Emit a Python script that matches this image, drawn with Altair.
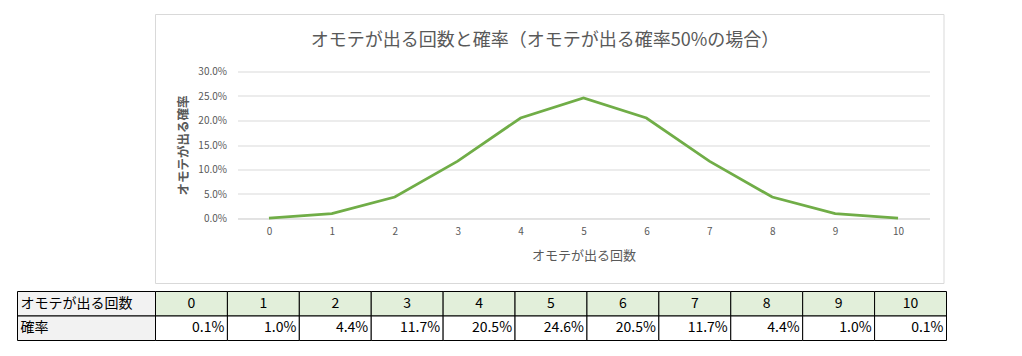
import altair as alt
import pandas as pd

# ---- data ----
counts = [0, 1, 2, 3, 4, 5, 6, 7, 8, 9, 10]
probs = [0.0010, 0.0098, 0.0439, 0.1172, 0.2051, 0.2461, 0.2051, 0.1172, 0.0439, 0.0098, 0.0010]
title_text = "オモテが出る回数と確率（オモテが出る確率50%の場合）"
x_title = "オモテが出る回数"
y_title = "オモテが出る確率"
row_labels = ["オモテが出る回数", "確率"]
y_ticks = [0.0, 0.05, 0.10, 0.15, 0.20, 0.25, 0.30]

FONT = "Noto Sans CJK JP"
GRAY = "#595959"
NOVIEW = alt.ViewBackground(stroke="transparent", strokeWidth=0)

# ---- top chart ----
df = pd.DataFrame({"n": counts, "p": probs})
deco = pd.DataFrame({"t": [title_text]})

line = alt.Chart(df).mark_line(color="#70ad47", strokeWidth=2.75).encode(
    x=alt.X("n:O", axis=alt.Axis(title=x_title, labelAngle=0, labelFont=FONT, labelFontSize=10,
                                 labelColor=GRAY, labelPadding=8, ticks=False, domain=True,
                                 domainColor="#d9d9d9", titleFont=FONT, titleFontSize=13,
                                 titleFontWeight="normal", titleColor=GRAY, titlePadding=13)),
    y=alt.Y("p:Q", scale=alt.Scale(domain=[0, 0.3]),
            axis=alt.Axis(title=y_title, values=y_ticks, format=".1%", labelFont=FONT,
                          labelFontSize=10, labelColor=GRAY, labelPadding=11, ticks=False,
                          domain=False, grid=True, gridColor="#d9d9d9", titleFont=FONT,
                          titleFontSize=12.5, titleFontWeight="bold", titleColor=GRAY,
                          titlePadding=7)),
)

box = alt.Chart(deco).mark_rect(fillOpacity=0, stroke="#d9d9d9", strokeWidth=1).encode(
    x=alt.value(-82), x2=alt.value(706.5), y=alt.value(-57), y2=alt.value(212)
)

title = alt.Chart(deco).mark_text(font=FONT, fontSize=18, color=GRAY, baseline="middle").encode(
    text="t:N", x=alt.value(307.5), y=alt.value(-31)
)

top = alt.layer(box, line, title).properties(width=692, height=147, view=NOVIEW)

spacer = alt.Chart(deco).mark_text(opacity=0, text=" ").encode(
    x=alt.value(0), y=alt.value(0)
).properties(width=220, height=147, view=NOVIEW)

# ---- table ----
col_names = [str(c) for c in counts]
cells = pd.DataFrame({
    "col": col_names * 2,
    "row": [row_labels[0]] * len(counts) + [row_labels[1]] * len(counts),
    "val": col_names + [f"{p:.1%}" for p in probs],
})

band = alt.Scale(paddingInner=0, paddingOuter=0)
gx = alt.X("col:N", sort=col_names, axis=None, scale=band)
gy = alt.Y("row:N", sort=row_labels, axis=None, scale=band)

grid_rect = alt.Chart(cells).mark_rect(stroke="black", strokeWidth=1).encode(
    x=gx, y=gy,
    color=alt.Color("row:N", scale=alt.Scale(domain=row_labels, range=["#e2efda", "#ffffff"]), legend=None),
)
head_text = alt.Chart(cells).transform_filter(alt.datum.row == row_labels[0]).mark_text(
    font=FONT, fontSize=14, color="black"
).encode(x=gx, y=gy, text="val:N")
val_text = alt.Chart(cells).transform_filter(alt.datum.row == row_labels[1]).mark_text(
    font=FONT, fontSize=14, color="black", align="right", dx=-3
).encode(x=alt.X("col:N", sort=col_names, axis=None, scale=band, bandPosition=1),
         y=gy, text="val:N")
grid = alt.layer(grid_rect, head_text, val_text).properties(width=791, height=49, view=NOVIEW)

labels = pd.DataFrame({"row": row_labels, "c": ["a", "a"]})
ly = alt.Y("row:N", sort=row_labels, axis=None, scale=band)
lab_rect = alt.Chart(labels).mark_rect(fill="#f2f2f2", stroke="black", strokeWidth=1).encode(
    x=alt.X("c:N", axis=None, scale=band), y=ly
)
lab_text = alt.Chart(labels).mark_text(font=FONT, fontSize=14, color="black", align="left", dx=3).encode(
    x=alt.X("c:N", axis=None, scale=band, bandPosition=0), y=ly, text="row:N"
)
label_col = alt.layer(lab_rect, lab_text).properties(width=138, height=49, view=NOVIEW)

chart = alt.vconcat(
    alt.hconcat(spacer, top, spacing=0, bounds="flush"),
    alt.hconcat(label_col, grid, spacing=0, bounds="flush"),
    spacing=6, bounds="full",
).properties(
    padding={"left": 8.5, "top": 5.5, "right": 5, "bottom": 5}
).configure_view(stroke="transparent", strokeWidth=0).configure(background="white")

chart.save("out.html", embed_options={"renderer": "svg", "actions": False})
